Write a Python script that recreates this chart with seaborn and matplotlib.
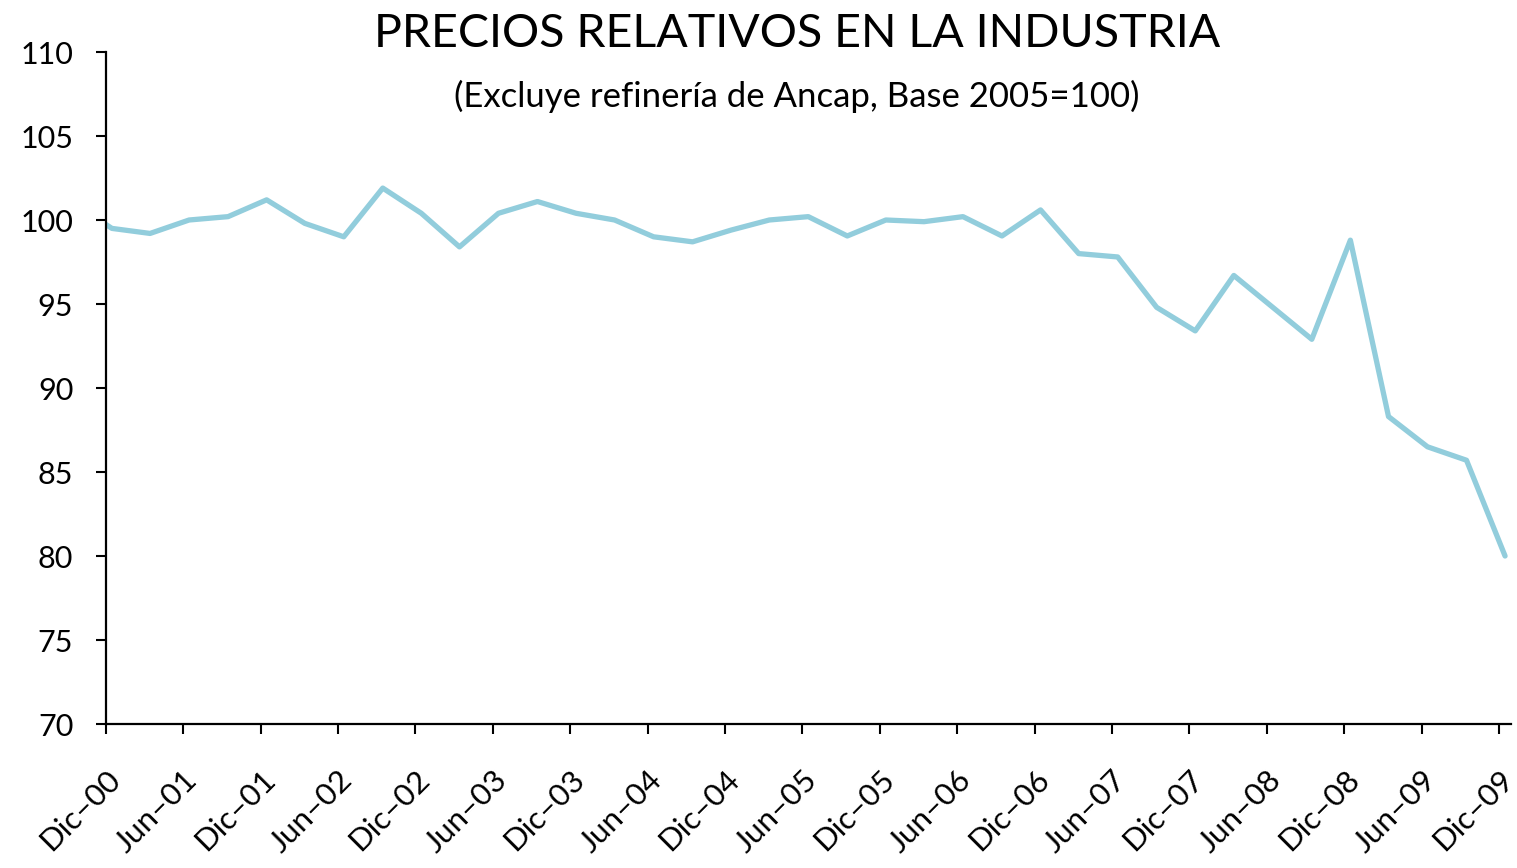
import matplotlib
matplotlib.use("Agg")
import matplotlib.pyplot as plt
import seaborn as sns
import pandas as pd

# quarterly index values (Sep-00 .. Dic-09)
valores = [101.0,
           99.5, 99.2, 100.0, 100.2, 101.2, 99.8, 99.0, 101.9, 100.4, 98.4,
           100.4, 101.1, 100.4, 100.0, 99.0, 98.7, 99.4, 100.0, 100.2, 99.05,
           100.0, 99.9, 100.2, 99.05, 100.6, 98.0, 97.8, 94.8, 93.4, 96.7,
           94.8, 92.9, 98.8, 88.3, 86.5, 85.7, 80.0]
trimestres = pd.date_range("2000-09-01", "2009-12-01", freq="3MS") + pd.Timedelta(days=14)

tick_fechas = pd.date_range("2000-12-01", "2009-12-01", freq="6MS")
tick_labels = ["Dic–00", "Jun–01", "Dic–01", "Jun–02", "Dic–02", "Jun–03", "Dic–03",
               "Jun–04", "Dic–04", "Jun–05", "Dic–05", "Jun–06", "Dic–06", "Jun–07",
               "Dic–07", "Jun–08", "Dic–08", "Jun–09", "Dic–09"]
y_ticks = [70, 75, 80, 85, 90, 95, 100, 105, 110]

titulo = "PRECIOS RELATIVOS EN LA INDUSTRIA"
subtitulo = "(Excluye refinería de Ancap, Base 2005=100)"

df = pd.DataFrame({"fecha": trimestres, "indice": valores})

sns.set_theme(style="white")
plt.rcParams["font.family"] = ["Lato", "DejaVu Sans"]

fig = plt.figure(figsize=(15.17, 8.68), dpi=100)
ax = fig.add_axes([106 / 1517, 1 - 724 / 868, (1511 - 106) / 1517, (724 - 52) / 868])

sns.lineplot(data=df, x="fecha", y="indice", ax=ax, color="#92CDDC", linewidth=3.8)

ax.set_xlim(pd.Timestamp("2000-12-01"), pd.Timestamp("2009-12-29"))
ax.set_ylim(70, 110)
ax.set_yticks(y_ticks)
ax.set_xticks(tick_fechas)
ax.set_xticklabels(tick_labels, rotation=45, ha="right", va="top", rotation_mode="anchor",
                   fontsize=22.5)
ax.set_xlabel("")
ax.set_ylabel("")

for s in ["top", "right"]:
    ax.spines[s].set_visible(False)
for s in ["left", "bottom"]:
    ax.spines[s].set_color("black")
    ax.spines[s].set_linewidth(1.6)

ax.tick_params(axis="both", direction="out", length=7.5, width=1.5, color="black",
               labelcolor="black")
ax.tick_params(axis="y", pad=16, left=True, labelsize=22)
ax.tick_params(axis="x", pad=22, bottom=True)

fig.text(797 / 1517, 1 - 47 / 868, titulo, ha="center", va="baseline", fontsize=33.5, color="black")
fig.text(797 / 1517, 1 - 107 / 868, subtitulo, ha="center", va="baseline", fontsize=25, color="black")

fig.savefig("out.png", dpi=100)
